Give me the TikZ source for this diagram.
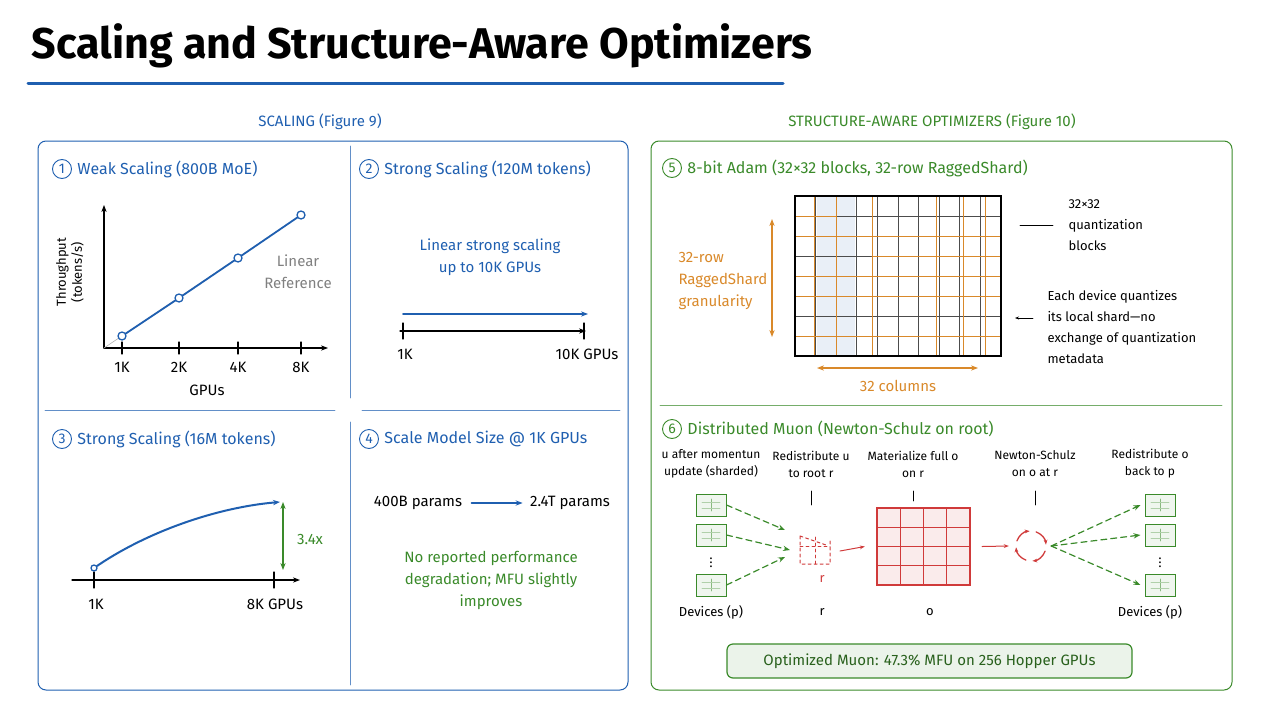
\documentclass[tikz,border=0pt]{standalone}
\usepackage{fontspec}
\setmainfont{Fira Sans}
\usetikzlibrary{arrows.meta,positioning}
\definecolor{sblue}{HTML}{1F5FB0}
\definecolor{sgreen}{HTML}{3A8A2A}
\definecolor{sorange}{HTML}{D9892A}
\definecolor{sred}{HTML}{D03A3A}
\definecolor{sgray}{HTML}{808080}

\begin{document}
\begin{tikzpicture}[x=1pt,y=-1pt,line cap=round,>={Stealth[length=7pt]}]
    \tikzstyle{panel}=[rounded corners=8pt,line width=1pt]
    \tikzstyle{head}=[anchor=west,font=\fontsize{16}{18}\selectfont]
    \tikzstyle{num}=[circle,draw,line width=0.9pt,inner sep=1.5pt,minimum size=19pt,font=\fontsize{14}{14}\selectfont]
    \tikzstyle{txt}=[font=\fontsize{15}{22}\selectfont,align=center]
    \tikzstyle{small}=[font=\fontsize{13}{21}\selectfont,align=center]
    \tikzstyle{dot}=[circle,draw=sblue,fill=white,line width=1.3pt,inner sep=0pt,minimum size=8pt]
    \tikzstyle{device}=[draw=sgreen,fill=sgreen!8,line width=1pt,minimum width=30pt,minimum height=22pt,inner sep=0pt]
    \tikzstyle{flow}=[->,sgreen,dashed,line width=1.2pt,dash pattern=on 6pt off 4pt]

    \useasboundingbox (0,0) rectangle (1280,720);

    % Title
    \node[anchor=west,font=\fontsize{43}{43}\selectfont\bfseries] (title) at (28,46) {Scaling and Structure-Aware Optimizers};
    \draw[sblue,line width=3pt] (28,83) -- (783,83);

    \node[txt,text=sblue] (lhead) at (320,122) {SCALING (Figure 9)};
    \node[txt,text=sgreen] (rhead) at (932,122) {STRUCTURE-AWARE OPTIMIZERS (Figure 10)};

    % Panels
    \draw[panel,sblue] (38,141) rectangle (628,690);
    \draw[sblue!70,line width=0.8pt] (350,146) -- (350,398) (350,422) -- (350,685);
    \draw[sblue!70,line width=0.8pt] (45,410) -- (335,410) (362,410) -- (620,410);
    \draw[panel,sgreen] (651,141) rectangle (1232,690);
    \draw[sgreen!70,line width=0.8pt] (660,405) -- (1222,405);

    % (1) Weak scaling
    \node[num,draw=sblue,text=sblue] (n1) at (62,169) {1};
    \node[head,text=sblue,right=2pt of n1] (h1) {Weak Scaling (800B MoE)};
    \coordinate (o1) at (104,348);
    \draw[->,line width=1.3pt] (o1) -- (104,205);
    \draw[->,line width=1.3pt] (o1) -- (328,348);
    \draw[sgray!60,line width=0.6pt] (o1) -- (301,215);
    \foreach \name/\x/\y in {1K/122/336,2K/179/298,4K/238/258,8K/301/215} {
        \draw[line width=1.3pt] (\x,342) -- (\x,354);
        \node[txt] (t1-\name) at (\x,367) {\name};
    }
    \draw[sblue,line width=1.8pt] (122,336) -- (179,298) -- (238,258) -- (301,215);
    \foreach \name/\x/\y in {1/122/336,2/179/298,4/238/258,8/301/215}
        \node[dot] (p-\name) at (\x,\y) {};
    \node[txt] (gpus1) at (207,390) {GPUs};
    \node[small,rotate=90,font=\fontsize{13}{16}\selectfont] (thr) at (70,272) {Throughput\\(tokens/s)};
    \node[txt,text=sgray] (lin) at (298,272) {Linear\\Reference};

    % (2) Strong scaling 120M
    \node[num,draw=sblue,text=sblue] (n2) at (369,169) {2};
    \node[head,text=sblue,right=2pt of n2] (h2) {Strong Scaling (120M tokens)};
    \node[txt,text=sblue] (t2) at (490,257) {Linear strong scaling\\up to 10K GPUs};
    \coordinate (a2) at (400,331);
    \coordinate (b2) at (586,331);
    \draw[->,line width=1.2pt] (a2) -- (b2);
    \draw[sblue,->,line width=2pt] (403,314) -- (588,314);
    \draw[line width=1.2pt] (403,323) -- (403,339) (584,323) -- (584,339);
    \node[txt] (k2a) at (405,354) {1K};
    \node[txt] (k2b) at (587,354) {10K GPUs};

    % (3) Strong scaling 16M
    \node[num,draw=sblue,text=sblue] (n3) at (62,439) {3};
    \node[head,text=sblue,right=2pt of n3] (h3) {Strong Scaling (16M tokens)};
    \draw[->,line width=1.2pt] (72,580) -- (300,580);
    \draw[line width=1.2pt] (94,572) -- (94,588) (274,572) -- (274,588);
    \node[dot,minimum size=6pt] (s3) at (94,568) {};
    \coordinate (e3) at (280,502);
    \draw[sblue,->,line width=2pt] (s3) .. controls (150,530) and (220,507) .. (e3);
    \draw[sgreen,<->,line width=1.5pt] (283,502) -- (283,570);
    \node[txt,text=sgreen] (x34) at (310,539) {3.4x};
    \node[txt] (k3a) at (96,604) {1K};
    \node[txt] (k3b) at (275,604) {8K GPUs};

    % (4) Scale model size
    \node[num,draw=sblue,text=sblue] (n4) at (369,439) {4};
    \node[head,text=sblue,right=2pt of n4] (h4) {Scale Model Size @ 1K GPUs};
    \node[txt] (p400) at (418,503) {400B params};
    \node[txt] (p24) at (570,503) {2.4T params};
    \draw[sblue,->,line width=2pt] ([xshift=6pt]p400.east) -- ([xshift=-4pt]p24.west);
    \node[txt,text=sgreen] (t4) at (491,580) {No reported performance\\degradation; MFU slightly\\improves};

    % (5) 8-bit Adam
    \node[num,draw=sgreen,text=sgreen] (n5) at (672,168) {5};
    \node[head,text=sgreen,right=2pt of n5] (h5) {8-bit Adam (32×32 blocks, 32-row RaggedShard)};
    \fill[sblue!10] (817,196) rectangle (855,356);
    \foreach \i in {1,...,9}
        \draw[black!70,line width=0.7pt] (795+20.6*\i,196) -- (795+20.6*\i,356);
    \foreach \i in {1,...,7}
        \draw[black!70,line width=0.7pt] (795,196+20*\i) -- (1001,196+20*\i);
    \foreach \x in {814,836,872,936,963,985}
        \draw[sorange,line width=1pt] (\x,196) -- (\x,356);
    \foreach \y in {236,276,296,336}
        \draw[sorange,line width=1pt] (795,\y) -- (1001,\y);
    \draw[sorange,line width=1pt] (795,216) -- (836,216) (872,256) -- (1001,256);
    \draw[line width=1.4pt] (795,196) rectangle (1001,356);
    \draw[sorange,<->,line width=1.2pt] (772,219) -- (772,337);
    \node[txt,text=sorange,align=left,anchor=west] (rag) at (675,281) {32-row\\RaggedShard\\granularity};
    \draw[sorange,<->,line width=1.2pt] (817,368) -- (978,368);
    \node[txt,text=sorange] (cols) at (898,386) {32 columns};
    \node[small,align=left,anchor=west] (qb) at (1065,225) {32×32\\quantization\\blocks};
    \draw[line width=0.8pt] (1020,225) -- (1053,225);
    \node[small,align=left,anchor=west] (ed) at (1044,327) {Each device quantizes\\its local shard—no\\exchange of quantization\\metadata};
    \draw[->,line width=0.8pt,>={Stealth[length=4pt]}] (1033,318) -- (1015,318);

    % (6) Distributed Muon
    \node[num,draw=sgreen,text=sgreen] (n6) at (672,429) {6};
    \node[head,text=sgreen,right=2pt of n6] (h6) {Distributed Muon (Newton-Schulz on root)};
    \foreach \name/\x/\lbl in {c1/711/{u after momentun\\update (sharded)},c2/811/{Redistribute u\\to root r},c3/913/{Materialize full o\\on r},c4/1035/{Newton-Schulz\\on o at r},c5/1150/{Redistribute o\\back to p}}
        \node[small,font=\fontsize{12}{17}\selectfont] (\name) at (\x,464) {\lbl};
    \draw[line width=0.8pt] (811,491) -- (811,505) (913,491) -- (913,501) (1035,491) -- (1035,505);
    % devices
    \foreach \name/\y in {1/505,2/535,3/585} {
        \node[device] (dl-\name) at (711,\y) {};
        \node[device] (dr-\name) at (1160,\y) {};
        \draw[sgreen!60,line width=0.6pt] (dl-\name.center) ++(0,-6) -- ++(0,12) (dr-\name.center) ++(0,-6) -- ++(0,12);
        \draw[sgreen!40,line width=0.6pt] (dl-\name.center) ++(-9,-3) -- ++(18,0) ++(0,6) -- ++(-18,0) (dr-\name.center) ++(-9,-3) -- ++(18,0) ++(0,6) -- ++(-18,0);
    }
    \node[font=\bfseries] (vl) at (711,560) {\(\vdots\)};
    \node[font=\bfseries] (vr) at (1160,560) {\(\vdots\)};
    % root shard
    \draw[sred,dashed,line width=1pt] (800,536) -- (826,545) (800,536) -- (800,564) -- (830,564) -- (830,540);
    \draw[sred,dashed,line width=0.8pt] (815,537) -- (815,564) (800,546) -- (830,546);
    \coordinate (root) at (790,550);
    \node[small,text=sred] (rr) at (822,579) {r};
    \draw[flow] (dl-1.east) -- (785,530);
    \draw[flow] (dl-2.east) -- (root);
    \draw[flow] (dl-3.east) -- (785,557);
    % full matrix
    \fill[sred!10] (877,508) rectangle (970,585);
    \foreach \i in {1,2,3} {
        \draw[sred,line width=1pt] (877+23.25*\i,508) -- (877+23.25*\i,585);
        \draw[sred,line width=1pt] (877,508+19.25*\i) -- (970,508+19.25*\i);
    }
    \draw[sred,line width=1.2pt] (877,508) rectangle (970,585);
    \node (mat) at (923.5,546.5) [minimum width=93pt,minimum height=77pt,inner sep=0pt] {};
    \draw[sred,->,line width=1pt,>={Stealth[length=5pt]}] (840,551) -- ([xshift=-12pt]mat.west);
    % newton-schulz loop
    \node[circle,minimum size=32pt,inner sep=0pt] (ns) at (1031,546) {};
    \foreach \a in {20,110,200,290}
        \draw[sred,->,line width=1.3pt,>={Stealth[length=5pt]}] (ns.center) ++(\a:15) arc[start angle=\a,end angle=\a+65,radius=15];
    \draw[sred,->,line width=1pt,>={Stealth[length=5pt]}] ([xshift=12pt]mat.east) -- ([xshift=-6pt]ns.west);
    \foreach \name in {1,2,3}
        \draw[flow] ([xshift=4pt]ns.east) -- ([xshift=-4pt]dr-\name.west);
    \node[small] (bl1) at (711,612) {Devices (p)};
    \node[small] (bl2) at (822,612) {r};
    \node[small] (bl3) at (930,612) {o};
    \node[small] (bl4) at (1150,612) {Devices (p)};

    \node[txt,draw=sgreen,fill=sgreen!10,line width=1.2pt,rounded corners=6pt,minimum width=405pt,minimum height=34pt,text=sgreen!70!black] (res) at (929.5,661) {Optimized Muon: 47.3\% MFU on 256 Hopper GPUs};
\end{tikzpicture}
\end{document}
